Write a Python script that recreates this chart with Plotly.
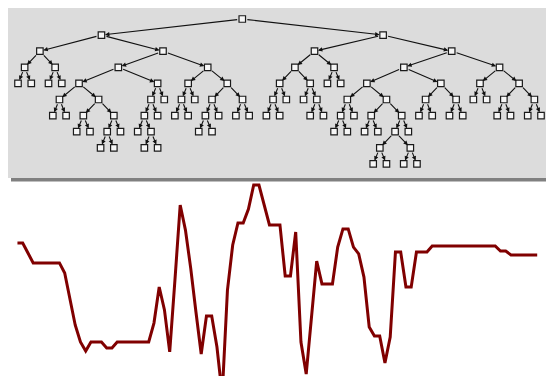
import plotly.graph_objects as go

# ---------------- data ----------------
# Binary tree: a leaf is 0, an internal node is [left, right]
SUB_B = [[0, 0], [0, 0]]
SUB_E = [[0, 0], [[0, 0], [[0, 0], 0]]]
SUB_F = [[[0, [0, 0]], 0], 0]
SUB_G = [[[0, 0], 0], [[[0, 0], 0], [0, 0]]]
SUB_I = [[[[0, 0], 0], [0, [0, 0]]], [0, 0]]
SUB_K = [[[0, 0], 0], [[0, 0], [[[0, 0], [0, 0]], 0]]]
SUB_L = [[0, 0], [0, 0]]
SUB_M = [[0, 0], [[0, 0], [0, 0]]]
TREE = [
    [SUB_B, [[SUB_E, SUB_F], SUB_G]],
    [SUB_I, [[SUB_K, SUB_L], SUB_M]],
]

LINE_VALUES = [
    69.6, 69.6, 64.4, 59.2, 59.2, 59.2, 59.2, 59.2, 59.2, 53.9,
    39.8, 26.7, 17.8, 13.1, 17.8, 17.8, 17.8, 14.7, 14.7, 17.8,
    17.8, 17.8, 17.8, 17.8, 17.8, 17.8, 27.7, 46.6, 34.6, 12.6,
    50.3, 89.5, 76.4, 56.5, 33.5, 11.5, 31.4, 31.4, 15.2, -9.9,
    45.0, 68.6, 80.1, 80.1, 87.4, 100.0, 100.0, 89.5, 79.1, 79.1,
    79.1, 52.4, 52.4, 75.4, 17.8, 1.0, 31.9, 60.2, 48.2, 48.2,
    48.2, 67.5, 77.0, 77.0, 67.5, 63.9, 51.8, 25.7, 20.9, 20.9,
    6.8, 20.4, 64.9, 64.9, 46.6, 46.6, 64.9, 64.9, 64.9, 68.1,
    68.1, 68.1, 68.1, 68.1, 68.1, 68.1, 68.1, 68.1, 68.1, 68.1,
    68.1, 68.1, 65.4, 65.4, 63.4, 63.4, 63.4, 63.4, 63.4, 63.4,
]
LINE_X = list(range(len(LINE_VALUES)))

# ---------------- tree structure ----------------
nodes = []


def add(t, depth, parent):
    idx = len(nodes)
    nodes.append({"depth": depth, "parent": parent, "children": []})
    if parent is not None:
        nodes[parent]["children"].append(idx)
    if t != 0:
        for c in t:
            add(c, depth + 1, idx)


add(TREE, 0, None)

NON_SIBLING_SEP = 1.3


def sep(a, b):
    return 1.0 if nodes[a]["parent"] == nodes[b]["parent"] else NON_SIBLING_SEP


def place(i):
    ch = nodes[i]["children"]
    if not ch:
        return {i: 0.0}
    acc = place(ch[0])
    for c in ch[1:]:
        sub = place(c)
        right, left = {}, {}
        for n, x in acc.items():
            d = nodes[n]["depth"]
            if d not in right or x > right[d][1]:
                right[d] = (n, x)
        for n, x in sub.items():
            d = nodes[n]["depth"]
            if d not in left or x < left[d][1]:
                left[d] = (n, x)
        shift = max(right[d][1] + sep(right[d][0], left[d][0]) - left[d][1]
                    for d in left if d in right)
        for n, x in sub.items():
            acc[n] = x + shift
    mid = (acc[ch[0]] + acc[ch[-1]]) / 2
    res = {n: x - mid for n, x in acc.items()}
    res[i] = 0.0
    return res


pos = place(0)
xs = [pos[i] for i in range(len(nodes))]
ds = [nodes[i]["depth"] for i in range(len(nodes))]

# the page body adds an 8px offset; all pixel positions below are figure-relative
W, H = 554, 376
LEAF_L, LEAF_R = 10.0, 533.0
xmin, xmax = min(xs), max(xs)
k = (LEAF_R - LEAF_L) / (xmax - xmin)
tree_xrange = [xmin - LEAF_L / k, xmax + (W - LEAF_R) / k]
lvl = 16.1
top_node = 11.0
tree_yrange = [(H - top_node) / lvl, -top_node / lvl]

fig = go.Figure()

# edges with small arrowheads
annotations = []
for i, n in enumerate(nodes):
    p = n["parent"]
    if p is None:
        continue
    annotations.append(dict(
        x=xs[i], y=ds[i], ax=xs[p], ay=ds[p],
        xref="x", yref="y", axref="x", ayref="y",
        text="", showarrow=True, arrowhead=2, arrowsize=0.8,
        arrowwidth=1.1, arrowcolor="#111111",
        standoff=3.6, startstandoff=3.6,
    ))

fig.add_trace(go.Scatter(
    x=xs, y=ds, mode="markers",
    marker=dict(symbol="square", size=6.5, color="#f6f6f6",
                line=dict(color="#1a1a1a", width=1.2)),
    hoverinfo="skip", showlegend=False, xaxis="x", yaxis="y",
))

fig.add_trace(go.Scatter(
    x=LINE_X, y=LINE_VALUES, mode="lines",
    line=dict(color="#800000", width=3),
    hoverinfo="skip", showlegend=False, xaxis="x2", yaxis="y2",
))

# line panel: value v sits at figure pixel (368 - 1.91 v); index i at 9.45 + 5.25 i
px_per_val = 1.91
zero_px = 368.0
line_top_px = 174.0
x_step, x_start = 5.25, 9.45
fig.update_layout(
    width=W, height=H,
    margin=dict(l=0, r=0, t=0, b=0, pad=0),
    paper_bgcolor="white", plot_bgcolor="rgba(0,0,0,0)",
    showlegend=False,
    annotations=annotations,
    xaxis=dict(domain=[0, 1], range=tree_xrange, visible=False, fixedrange=True),
    yaxis=dict(domain=[0, 1], range=tree_yrange, visible=False, fixedrange=True),
    xaxis2=dict(domain=[0, 1], anchor="y2",
                range=[-x_start / x_step, (W - x_start) / x_step], visible=False),
    yaxis2=dict(domain=[0, (H - line_top_px) / H], anchor="x2",
                range=[(zero_px - H) / px_per_val, (zero_px - line_top_px) / px_per_val],
                visible=False),
    shapes=[
        dict(type="rect", xref="paper", yref="paper", layer="below",
             x0=0, x1=1.0, y0=(H - 170) / H, y1=1.0,
             fillcolor="#dcdcdc", line=dict(width=0)),
        dict(type="rect", xref="paper", yref="paper", layer="below",
             x0=3 / W, x1=1.0, y0=(H - 173.5) / H, y1=(H - 170) / H,
             fillcolor="#808080", line=dict(width=0)),
    ],
)

fig.write_html("out.html")
